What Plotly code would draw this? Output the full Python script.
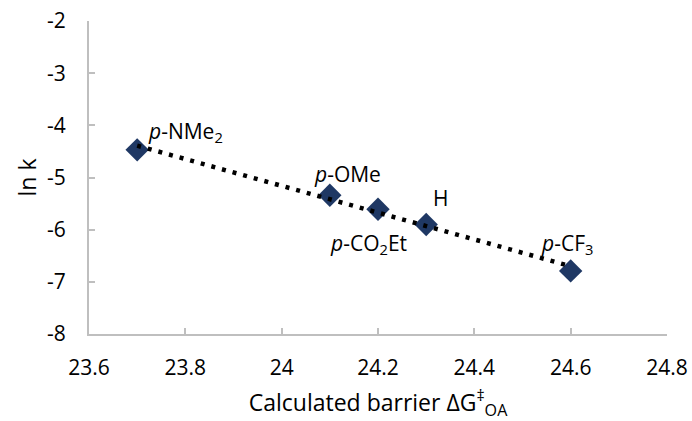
import numpy as np
import plotly.graph_objects as go

barrier = [23.7, 24.1, 24.2, 24.3, 24.6]
lnk = [-4.47, -5.34, -5.61, -5.90, -6.79]
labels = ["<i>p</i>-NMe<sub>2</sub>", "<i>p</i>-OMe", "<i>p</i>-CO<sub>2</sub>Et", "H", "<i>p</i>-CF<sub>3</sub>"]
label_dx = [9, -18, -50, 5, -32]
label_dy = [18, 21, -35, 26, 27]
x_ticks = [23.6, 23.8, 24.0, 24.2, 24.4, 24.6, 24.8]
x_ticktext = ["23.6", "23.8", "24", "24.2", "24.4", "24.6", "24.8"]
y_ticks = [-8, -7, -6, -5, -4, -3, -2]
y_ticktext = ["-8", "-7", "-6", "-5", "-4", "-3", "-2"]

FONT = "Open Sans, Liberation Sans, sans-serif"
fig = go.Figure()

coef = np.polyfit(barrier, lnk, 1)
tx = [min(barrier), max(barrier)]
ty = list(np.polyval(coef, tx))
fig.add_trace(go.Scatter(x=barrier, y=lnk, mode="markers",
                         marker=dict(symbol="diamond", size=18, color="#1f3864"),
                         showlegend=False, cliponaxis=False))
fig.add_trace(go.Scatter(x=tx, y=ty, mode="lines",
                         line=dict(color="black", width=4.5, dash="4px,7px"),
                         showlegend=False))

for x, y, t, dx, dy in zip(barrier, lnk, labels, label_dx, label_dy):
    fig.add_annotation(x=x, y=y, text=t, showarrow=False, xanchor="left", yanchor="middle",
                       xshift=dx, yshift=dy,
                       font=dict(family=FONT, size=21, color="black"))

axis_common = dict(showline=True, linecolor="#bfbfbf", linewidth=2, ticks="inside",
                   ticklen=6, tickcolor="#bfbfbf", tickwidth=2, showgrid=False,
                   zeroline=False, automargin=False,
                   tickfont=dict(family=FONT, size=21, color="black"))
fig.update_xaxes(range=[23.6, 24.8], tickvals=x_ticks, ticktext=x_ticktext,
                 ticklabelstandoff=14,
                 title=dict(text="Calculated barrier ΔG<sup>‡</sup><sub>OA</sub>",
                            font=dict(family=FONT, size=23, color="black"), standoff=15),
                 **axis_common)
fig.update_yaxes(range=[-8, -2], tickvals=y_ticks, ticktext=y_ticktext, ticklabelstandoff=17,
                 title=dict(text="ln k", font=dict(family=FONT, size=23, color="black"), standoff=4),
                 **axis_common)
fig.update_layout(width=692, height=421, margin=dict(l=89, r=25, t=21, b=87),
                  plot_bgcolor="white", paper_bgcolor="white")
fig.write_html("out.html", config={"displayModeBar": False},
               post_script="document.body.style.margin='0';document.body.style.overflow='hidden';")
